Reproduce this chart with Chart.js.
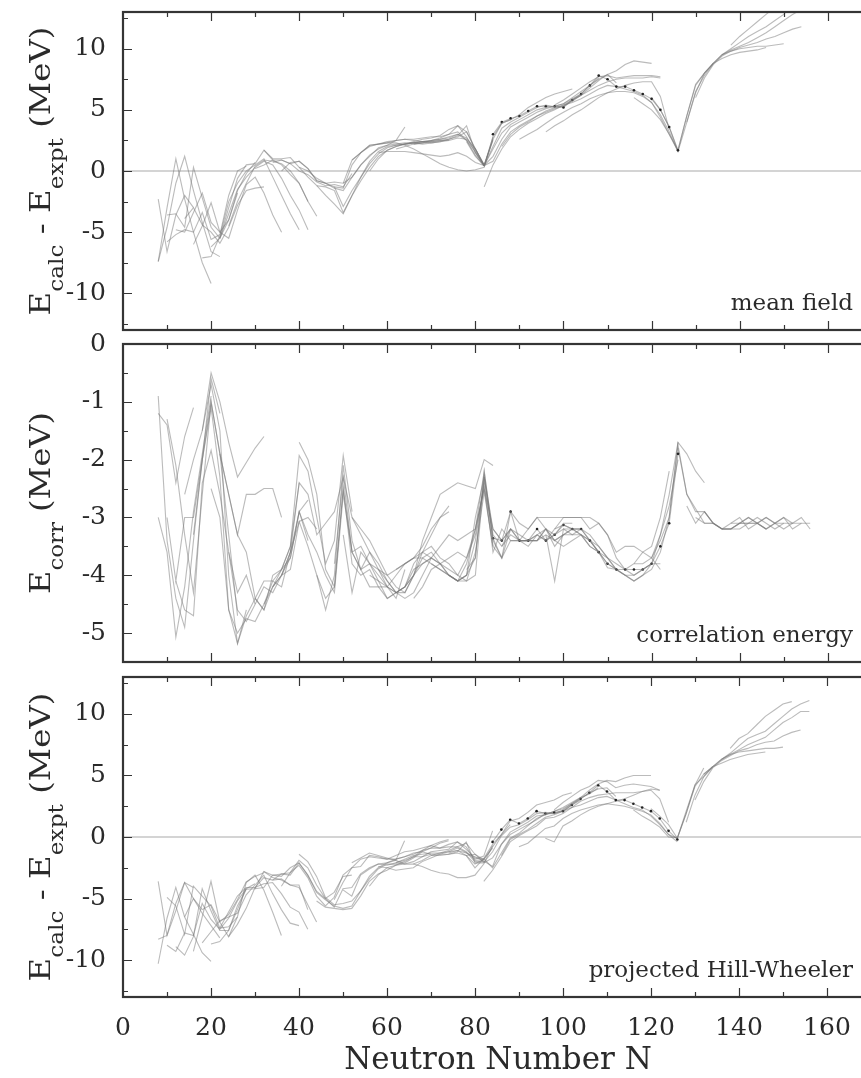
<!DOCTYPE html>
<html><head><meta charset="utf-8">
<script src="https://cdn.jsdelivr.net/npm/chart.js@4.4.1/dist/chart.umd.min.js"></script>
<style>
html,body{margin:0;padding:0;background:#fff;}
#wrap{position:relative;width:861px;height:1078px;overflow:hidden;background:#fff;}
canvas{position:absolute;left:0;}
</style></head><body>
<div id="wrap">
<canvas id="c1" width="867" height="382" style="top:-20px;width:867px;height:382px"></canvas>
<canvas id="c2" width="867" height="382" style="top:312px;width:867px;height:382px"></canvas>
<canvas id="c3" width="867" height="433" style="top:645px;width:867px;height:433px"></canvas>
</div>
<script>
// ---------- tick / axis labels ----------
const xTickValues = [0, 20, 40, 60, 80, 100, 120, 140, 160];
const panelTags = ['mean field', 'correlation energy', 'projected Hill-Wheeler'];
const xAxisTitle = 'Neutron Number N';

// ---------- chain starting neutron numbers (even-even isotopic chains, step 2) ----------
const chainStartN = [8,8,8,10,10,12,14,16,18,20,22,24, 30,32,34,36,40,44,48,50,52,56,58,60,
  62,66,70,74,78,82,84,86,90,96,98,116,120, 126,128,130,132,136,138];

// mf = mean field E_calc-E_expt, ec = correlation energy, hw = projected Hill-Wheeler E_calc-E_expt
const mfL1=[-2.3,-6.6,-3.6,-2.0,-3.0], ecL1=[-1.2,-1.4,-2.4,-1.6,-1.1], hwL1=[-3.6,-8.0,-6.0,-3.7,-4.1];
const mfL2=[-7.4,-3.0,1.0,-2.3,-5.0,-7.5,-9.2], ecL2=[-3.0,-3.6,-5.07,-4.2,-2.9,-1.9,-0.9], hwL2=[-10.3,-6.6,-4.1,-6.5,-7.9,-9.4,-10.1];
const mfL3=[-7.4,-4.6,-1.0,1.2,-1.6,-4.2,-6.6,-7.0], ecL3=[-0.9,-3.4,-4.4,-4.9,-3.4,-2.0,-0.6,-1.2], hwL3=[-8.3,-8.0,-5.4,-3.7,-5.0,-6.2,-7.2,-8.2];
const mfL4=[-3.6,-3.5,-4.6,0.3,-2.2,-4.6,-5.5,-4.0,-1.8], ecL4=[-1.3,-2.1,-3.3,-4.3,-2.6,-1.0,-1.9,-3.3,-4.7], hwL4=[-4.9,-5.6,-7.9,-4.0,-4.8,-5.6,-7.4,-7.3,-6.5];
const mfL5=[-5.8,-5.2,-4.8,-5.0,-3.4,-5.6,-5.2,-2.0,0.0,0.4], ecL5=[-3.0,-4.1,-3.0,-3.0,-2.0,-1.1,-2.3,-4.6,-5.18,-4.6], hwL5=[-8.8,-9.3,-7.8,-8.0,-5.4,-6.7,-7.5,-6.6,-5.2,-4.2];
const mfL6=[-4.8,-5.0,-3.4,-1.8,-4.2,-5.0,-4.0,-1.6,-0.2,0.7], ecL6=[-4.1,-4.6,-4.7,-2.4,-1.84,-2.6,-3.6,-4.3,-4.0,-4.5], hwL6=[-8.9,-9.6,-8.1,-4.2,-6.0,-7.6,-7.6,-5.9,-4.2,-3.8];
const mfL7=[-3.9,-3.0,-4.4,-5.0,-5.9,-4.6,-2.8,-1.6,-1.4,-1.3], ecL7=[-2.6,-2.0,-1.5,-0.5,-1.0,-1.7,-2.3,-2.05,-1.8,-1.6], hwL7=[-6.5,-5.0,-5.9,-5.5,-6.9,-6.3,-5.1,-3.65,-3.2,-2.9];
const mfL8=[-6.0,-4.5,-2.6,-5.0,-5.5,-3.2,-1.1,-0.5,-1.8,-3.6,-5.0], ecL8=[-3.3,-2.0,-1.0,-1.9,-2.6,-3.3,-2.6,-2.6,-2.5,-2.5,-3.0], hwL8=[-9.3,-6.5,-3.6,-6.9,-8.1,-6.5,-3.7,-3.1,-4.3,-6.1,-8.0];
const mfL9=[-7.1,-7.0,-5.3,-2.5,-1.0,0.0,0.5,1.0,-0.5,-2.0,-3.5,-4.8], ecL9=[-1.5,-0.7,-1.5,-4.0,-5.18,-4.7,-4.4,-4.1,-4.1,-3.9,-3.5,-2.4], hwL9=[-8.6,-7.7,-6.8,-6.5,-6.2,-4.7,-3.9,-3.1,-4.6,-5.9,-7.0,-7.2];
const mfL10=[-6.2,-5.5,-3.0,-0.6,0.5,0.6,1.7,0.9,0.5,-0.3,-1.0,-2.5], ecL10=[-2.5,-3.0,-4.6,-5.0,-4.75,-4.8,-4.5,-4.2,-4.0,-3.6,-2.9,-3.4], hwL10=[-8.7,-8.5,-7.6,-5.6,-4.25,-4.2,-2.8,-3.3,-3.5,-3.9,-3.9,-5.9];
const mfL11=[-5.5,-3.5,-1.5,-0.5,0.3,0.8,0.5,-0.6,-2.0,-3.2,-4.8], ecL11=[-1.9,-2.6,-3.3,-3.6,-4.4,-4.6,-4.2,-4.0,-3.7,-2.9,-2.7], hwL11=[-7.4,-6.1,-4.8,-4.1,-4.1,-3.8,-3.7,-4.6,-5.7,-6.1,-7.5];
const mfL12=[-4.5,-2.5,-1.0,0.4,0.9,0.8,0.6,0.0,-1.0,-2.5,-3.7], ecL12=[-3.6,-4.6,-4.8,-4.5,-4.2,-4.3,-4.0,-3.9,-3.07,-3.0,-3.2], hwL12=[-8.1,-7.1,-5.8,-4.1,-3.3,-3.5,-3.4,-3.9,-4.1,-5.5,-6.9];
const mfM1=[0.2,0.5,0.9,0.9,0.6,0.0,-0.3,-0.9,-1.2,-1.1,-1.3,-0.2], ecM1=[-4.4,-4.6,-4.0,-3.9,-3.5,-1.93,-2.2,-3.0,-3.8,-3.4,-1.93,-2.9], hwM1=[-4.2,-4.1,-3.1,-3.0,-2.9,-1.9,-2.5,-3.9,-5.0,-4.5,-3.2,-3.1];
const mfM2=[1.7,1.0,1.0,1.1,0.3,-0.5,-1.2,-2.0,-2.7,-3.5,-2.0,-0.5,0.8,1.6,2.0], ecM2=[-4.5,-4.1,-4.2,-3.6,-2.4,-2.6,-3.3,-3.1,-2.9,-2.3,-3.6,-3.9,-4.2,-4.2,-4.2], hwM2=[-2.8,-3.1,-3.2,-2.5,-2.1,-3.1,-4.5,-5.1,-5.6,-5.8,-5.6,-4.4,-3.4,-2.6,-2.2];
const mfM3=[0.7,0.9,0.6,0.8,0.2,-0.8,-1.0,-1.4,-1.6,-0.5,0.5,1.3,1.8,2.1,2.5,3.6], ecM3=[-4.2,-3.9,-3.7,-2.9,-3.3,-3.6,-4.0,-4.3,-2.6,-3.6,-3.5,-3.8,-4.0,-4.2,-4.4,-3.9], hwM3=[-3.5,-3.0,-3.1,-2.1,-3.1,-4.4,-5.0,-5.7,-4.2,-4.1,-3.0,-2.5,-2.2,-2.1,-1.9,-0.3];
const mfM4=[0.0,0.7,0.8,0.2,-0.8,-1.0,-0.9,-1.0,0.9,1.5,2.1,2.2,2.3,2.5,2.6,2.5,2.4,2.3], ecM4=[-4.0,-3.6,-3.07,-3.5,-4.0,-4.6,-4.0,-2.1,-3.4,-3.9,-3.6,-3.8,-4.1,-4.3,-4.2,-3.8,-3.6,-3.7], hwM4=[-4.0,-2.9,-2.3,-3.3,-4.8,-5.6,-4.9,-3.1,-2.5,-2.4,-1.5,-1.6,-1.8,-1.8,-1.6,-1.3,-1.2,-1.4];
const mfM5=[0.3,0.0,-0.6,-1.0,-1.3,-2.9,-1.6,-0.5,0.6,1.4,1.9,2.1,2.2,2.3,2.4,2.5,2.6,2.7], ecM5=[-1.7,-2.0,-2.6,-3.9,-4.2,-2.5,-3.6,-3.9,-3.8,-3.9,-4.0,-3.9,-3.8,-3.7,-3.5,-3.2,-3.0,-2.9], hwM5=[-1.4,-2.0,-3.2,-4.9,-5.5,-5.4,-5.2,-4.4,-3.2,-2.5,-2.1,-1.8,-1.6,-1.4,-1.1,-0.7,-0.4,-0.2];
const mfM6=[-1.2,-1.3,-1.6,-3.4,-2.0,-0.8,0.3,1.2,1.7,2.0,2.2,2.3,2.4,2.5,2.7,3.0,3.7,3.2,1.8,0.45], ecM6=[-4.0,-4.4,-4.2,-2.5,-3.8,-4.0,-3.9,-4.2,-4.4,-4.3,-4.4,-4.3,-4.0,-3.7,-3.8,-4.0,-4.1,-4.0,-3.7,-2.3], hwM6=[-5.2,-5.7,-5.8,-5.9,-5.8,-4.8,-3.6,-3.0,-2.7,-2.3,-2.2,-2.0,-1.6,-1.2,-1.1,-1.0,-0.4,-0.8,-1.9,-1.85];
const mfM7=[-1.3,-1.4,0.5,1.5,2.0,2.2,2.4,2.5,2.6,2.6,2.7,2.8,2.8,3.0,3.2,2.5,1.3,0.4], ecM7=[-3.8,-2.3,-3.0,-3.3,-3.6,-3.9,-4.2,-4.0,-3.8,-3.7,-3.6,-3.5,-3.7,-3.8,-4.0,-3.7,-3.3,-2.4], hwM7=[-5.1,-3.7,-2.5,-1.8,-1.6,-1.7,-1.8,-1.5,-1.2,-1.1,-0.9,-0.7,-0.9,-0.8,-0.8,-1.2,-2.0,-2.0];
const mfM8=[-1.0,-0.5,0.5,1.2,1.9,2.1,2.2,2.3,2.3,2.2,2.3,2.4,2.5,2.7,2.6,1.8,0.5,2.5], ecM8=[-3.3,-4.3,-3.6,-3.8,-4.1,-4.4,-4.3,-4.2,-3.9,-3.8,-3.7,-3.8,-3.9,-4.0,-4.1,-4.0,-2.3,-3.4], hwM8=[-4.3,-4.8,-3.1,-2.6,-2.2,-2.3,-2.1,-1.9,-1.6,-1.6,-1.4,-1.4,-1.4,-1.3,-1.5,-2.2,-1.8,-0.9];
const mfM9=[0.9,1.5,2.1,2.2,2.3,2.3,2.1,1.8,1.4,1.0,0.6,0.3,0.1,0.0,0.1,0.3,2.8], ecM9=[-3.0,-3.2,-3.4,-3.7,-4.0,-4.2,-4.3,-4.0,-3.8,-3.7,-3.5,-3.3,-3.4,-3.3,-3.2,-2.5,-3.5], hwM9=[-2.1,-1.7,-1.3,-1.5,-1.7,-1.9,-2.2,-2.2,-2.4,-2.7,-2.9,-3.0,-3.3,-3.3,-3.1,-2.2,-0.7];
const mfM10=[0.0,1.0,1.7,2.0,2.2,2.4,2.6,2.7,2.9,3.4,3.7,2.8,1.5,0.45,2.8,3.9,4.2], ecM10=[-4.0,-4.1,-4.2,-4.3,-4.2,-4.0,-3.7,-3.6,-3.8,-4.0,-4.1,-3.8,-3.2,-2.2,-3.4,-3.7,-3.2], hwM10=[-4.0,-3.1,-2.5,-2.3,-2.0,-1.6,-1.1,-0.9,-0.9,-0.6,-0.4,-1.0,-1.7,-1.75,-0.6,0.2,1.0];
const mfM11=[1.5,1.6,1.6,1.6,1.5,1.4,1.3,1.2,1.3,1.5,1.2,0.7,0.45,2.6], ecM11=[-3.9,-4.1,-4.3,-4.2,-4.0,-3.4,-3.0,-2.6,-2.5,-2.4,-2.45,-2.5,-2.0,-2.1], hwM11=[-2.4,-2.5,-2.7,-2.6,-2.5,-2.0,-1.7,-1.4,-1.2,-0.9,-1.25,-1.8,-1.55,0.5];
const mfM12=[2.0,2.1,2.2,2.3,2.4,2.4,2.5,2.5], ecM12=[-4.2,-4.3,-4.3,-4.0,-3.6,-3.3,-3.0,-2.8], hwM12=[-2.2,-2.2,-2.1,-1.7,-1.2,-0.9,-0.5,-0.3];
const mfH1=[1.8,2.0,2.2,2.3,2.5,2.6,2.8,3.0,2.5,1.6,0.45,2.6,3.9,4.2,4.6,5.2,5.6,6.0,6.3,6.5,6.7], ecH1=[-3.9,-3.8,-3.7,-3.7,-3.8,-3.9,-4.0,-4.1,-4.0,-3.0,-2.3,-3.36,-3.7,-2.9,-3.1,-3.2,-3.0,-3.2,-3.3,-3.1,-3.1], hwH1=[-2.1,-1.8,-1.5,-1.4,-1.3,-1.3,-1.2,-1.1,-1.5,-1.4,-1.85,-0.8,0.2,1.3,1.5,2.0,2.6,2.8,3.0,3.4,3.6];
const mfH2=[2.2,2.3,2.4,2.5,2.6,2.8,3.2,1.8,0.45,2.0,3.5,4.0,4.4,4.8,5.2,5.4,5.2,5.3,5.8,6.2], ecH2=[-4.4,-4.2,-3.9,-3.8,-3.7,-3.6,-3.7,-3.2,-2.5,-3.2,-3.4,-3.2,-3.4,-3.4,-3.3,-3.4,-3.3,-3.2,-3.2,-3.2], hwH2=[-2.2,-1.9,-1.5,-1.3,-1.1,-0.8,-0.5,-1.4,-2.05,-1.2,0.1,0.8,1.0,1.4,1.9,2.0,1.9,2.1,2.6,3.0];
const mfH3=[2.3,2.4,2.6,2.9,3.7,1.5,0.45,1.8,3.1,3.8,4.2,4.6,5.0,5.2,5.3,5.5,6.0,6.5,7.0,7.6], ecH3=[-3.8,-3.9,-4.0,-4.1,-4.1,-3.6,-2.56,-3.5,-3.7,-3.4,-3.4,-3.4,-3.3,-3.4,-3.2,-3.13,-3.2,-3.3,-3.5,-3.6], hwH3=[-1.5,-1.5,-1.4,-1.2,-0.4,-2.1,-2.1,-1.7,-0.6,0.4,0.8,1.2,1.7,1.8,2.1,2.4,2.8,3.2,3.5,4.0];
const mfH4=[2.7,3.0,2.7,1.8,0.45,1.2,2.6,3.6,4.0,4.4,4.8,5.1,5.3,5.5,5.9,6.3,7.0,7.5,7.9,7.2], ecH4=[-4.0,-4.1,-4.0,-3.4,-2.4,-3.6,-3.2,-3.4,-3.4,-3.4,-3.4,-3.2,-3.4,-3.3,-3.2,-3.2,-3.4,-3.6,-3.87,-3.9], hwH4=[-1.3,-1.1,-1.3,-1.6,-1.95,-2.4,-0.6,0.2,0.6,1.0,1.4,1.9,1.9,2.2,2.7,3.1,3.6,3.9,4.0,3.3];
const mfH5=[2.4,1.2,0.45,0.8,2.2,3.2,3.7,4.1,4.5,4.8,5.1,5.3,5.7,6.2,6.8,7.4,7.9,8.2,8.7,9.0,8.9,8.8], ecH5=[-3.9,-3.7,-2.2,-3.3,-3.5,-3.3,-3.4,-3.2,-3.0,-3.0,-3.0,-3.0,-3.0,-3.0,-3.0,-3.1,-3.3,-3.7,-3.9,-4.0,-3.9,-3.8], hwH5=[-1.5,-2.5,-1.75,-2.5,-1.3,-0.1,0.3,0.9,1.5,1.8,2.1,2.3,2.7,3.2,3.8,4.3,4.6,4.5,4.8,5.0,5.0,5.0];
const mfH6=[-1.3,0.5,1.8,2.8,3.4,3.9,4.3,4.7,5.0,5.4,5.8,6.2,6.6,7.0,7.3,7.5,7.6,7.6,7.6,7.7,7.6], ecH6=[-2.3,-3.2,-3.4,-3.2,-3.3,-3.4,-3.4,-3.2,-3.4,-3.5,-3.4,-3.3,-3.4,-3.6,-3.8,-3.9,-4.0,-4.0,-3.9,-3.8,-3.8], hwH6=[-3.6,-2.7,-1.6,-0.4,0.1,0.5,0.9,1.5,1.6,1.9,2.4,2.9,3.2,3.4,3.5,3.6,3.6,3.6,3.7,3.9,3.8];
const mfH7=[3.0,4.0,4.3,4.5,4.9,5.3,5.3,5.3,5.2,5.8,6.3,7.0,7.8,7.5,6.9,6.9,6.6,6.3,5.9,5.0,3.6,1.7], ecH7=[-3.36,-3.4,-2.9,-3.4,-3.4,-3.2,-3.4,-3.3,-3.13,-3.2,-3.2,-3.4,-3.6,-3.8,-3.9,-3.9,-3.9,-3.9,-3.8,-3.5,-3.1,-1.9], hwH7=[-0.4,0.6,1.4,1.1,1.5,2.1,1.9,2.0,2.1,2.6,3.1,3.6,4.2,3.7,3.0,3.0,2.7,2.4,2.1,1.5,0.5,-0.2];
const mfH8=[2.0,3.0,3.6,4.0,4.5,4.9,5.2,5.4,5.6,5.9,6.3,6.7,7.0,6.9,6.7,6.5,6.2,5.6,4.6,3.2,1.6], ecH8=[-3.5,-3.2,-3.4,-3.4,-3.4,-3.3,-3.4,-3.3,-3.2,-3.3,-3.4,-3.5,-3.7,-3.9,-4.0,-4.1,-4.0,-3.9,-3.6,-3.0,-1.7], hwH8=[-1.5,-0.2,0.2,0.6,1.1,1.6,1.8,2.1,2.4,2.6,2.9,3.2,3.3,3.0,2.7,2.4,2.2,1.7,1.0,0.2,-0.1];
const mfH9=[2.6,3.0,3.4,3.9,4.4,4.8,5.2,5.5,5.9,6.2,6.4,6.5,6.5,6.4,6.1,5.6,4.4,3.0,1.6], ecH9=[-3.4,-3.5,-3.3,-3.2,-3.5,-3.3,-3.3,-3.3,-3.5,-3.6,-3.7,-3.9,-4.0,-4.1,-4.0,-3.8,-3.3,-2.8,-2.0], hwH9=[-0.8,-0.5,0.1,0.7,0.9,1.5,1.9,2.2,2.4,2.6,2.7,2.6,2.5,2.3,2.1,1.8,1.1,0.2,-0.4];
const mfH10=[3.2,3.7,4.1,4.6,5.0,5.5,6.0,6.4,6.7,7.0,7.2,7.3,7.3,6.1,3.4], ecH10=[-3.3,-4.1,-3.2,-3.3,-3.2,-3.3,-3.5,-3.7,-3.8,-3.9,-3.8,-3.6,-3.5,-3.0,-2.2], hwH10=[-0.1,-0.4,0.9,1.3,1.8,2.2,2.5,2.7,2.9,3.1,3.4,3.7,3.8,3.1,1.2];
const mfH11=[5.4,5.8,6.3,6.8,7.3,7.7,7.8,7.6,7.7,7.8,7.8,7.8,7.7], ecH11=[-3.2,-3.0,-3.0,-3.0,-3.2,-3.1,-3.3,-3.6,-3.5,-3.5,-3.6,-3.7,-3.9], hwH11=[2.2,2.8,3.3,3.8,4.1,4.6,4.5,4.0,4.2,4.3,4.2,4.1,3.8];
const mfH12=[6.0,5.5,5.0,4.2,3.0,1.7,4.5,7.1,8.0,8.8], ecH12=[-3.8,-3.8,-3.7,-3.4,-3.0,-1.75,-2.6,-2.85,-3.1,-3.1], hwH12=[2.2,1.7,1.3,0.8,0.0,-0.05,1.9,4.25,4.9,5.7];
const mfH13=[6.0,5.0,3.6,1.6,4.0,6.4,8.0], ecH13=[-3.7,-3.3,-2.6,-1.7,-1.9,-2.2,-2.4], hwH13=[2.3,1.7,1.0,-0.1,2.1,4.2,5.6];
const mfP1=[1.7,4.5,7.0,8.0,8.8,9.2,9.5,9.7,9.8,9.9,10.1], ecP1=[-1.8,-2.6,-2.9,-2.9,-3.1,-3.2,-3.2,-3.2,-3.1,-3.1,-3.2], hwP1=[-0.1,1.9,4.1,5.1,5.7,6.0,6.3,6.5,6.7,6.8,6.9];
const mfP2=[4.0,6.5,7.8,8.8,9.5,9.8,10.0,10.1,10.2,10.2,10.3,10.4], ecP2=[-2.8,-3.1,-2.9,-3.1,-3.2,-3.1,-3.1,-3.1,-3.1,-3.0,-3.1,-3.1], hwP2=[1.2,3.4,4.9,5.7,6.3,6.7,6.9,7.0,7.1,7.2,7.2,7.3];
const mfP3=[6.0,7.6,8.7,9.4,9.8,10.1,10.3,10.5,10.8,11.0,11.3,11.6,11.8], ecP3=[-3.0,-3.1,-3.1,-3.2,-3.2,-3.1,-3.1,-3.0,-3.1,-3.2,-3.1,-3.1,-3.1], hwP3=[3.0,4.5,5.6,6.2,6.6,7.0,7.2,7.5,7.7,7.8,8.2,8.5,8.7];
const mfP4=[8.0,8.8,9.5,9.9,10.2,10.5,10.9,11.3,11.8,12.3,12.8,13.2,13.4], ecP4=[-2.9,-3.1,-3.2,-3.2,-3.1,-3.0,-3.1,-3.2,-3.1,-3.0,-3.1,-3.0,-3.2], hwP4=[5.1,5.7,6.3,6.7,7.1,7.5,7.8,8.1,8.7,9.3,9.7,10.2,10.2];
const mfP5=[9.5,10.0,10.5,11.0,11.4,11.8,12.3,12.8,13.6,13.9,14.2], ecP5=[-3.2,-3.2,-3.1,-3.0,-3.1,-3.2,-3.1,-3.0,-3.2,-3.1,-3.1], hwP5=[6.3,6.8,7.4,8.0,8.3,8.6,9.2,9.8,10.4,10.8,11.1];
const mfP6=[10.3,11.0,11.6,12.2,12.8,13.4,14.0,14.1], ecP6=[-3.1,-3.0,-3.2,-3.1,-3.0,-3.1,-3.2,-3.1], hwP6=[7.2,8.0,8.4,9.1,9.8,10.3,10.8,11.0];

const meanFieldChains = [mfL1,mfL2,mfL3,mfL4,mfL5,mfL6,mfL7,mfL8,mfL9,mfL10,mfL11,mfL12,mfM1,mfM2,mfM3,mfM4,mfM5,mfM6,mfM7,mfM8,mfM9,mfM10,mfM11,mfM12,mfH1,mfH2,mfH3,mfH4,mfH5,mfH6,mfH7,mfH8,mfH9,mfH10,mfH11,mfH12,mfH13,mfP1,mfP2,mfP3,mfP4,mfP5,mfP6];
const corrChains = [ecL1,ecL2,ecL3,ecL4,ecL5,ecL6,ecL7,ecL8,ecL9,ecL10,ecL11,ecL12,ecM1,ecM2,ecM3,ecM4,ecM5,ecM6,ecM7,ecM8,ecM9,ecM10,ecM11,ecM12,ecH1,ecH2,ecH3,ecH4,ecH5,ecH6,ecH7,ecH8,ecH9,ecH10,ecH11,ecH12,ecH13,ecP1,ecP2,ecP3,ecP4,ecP5,ecP6];
const hillWheelerChains = [hwL1,hwL2,hwL3,hwL4,hwL5,hwL6,hwL7,hwL8,hwL9,hwL10,hwL11,hwL12,hwM1,hwM2,hwM3,hwM4,hwM5,hwM6,hwM7,hwM8,hwM9,hwM10,hwM11,hwM12,hwH1,hwH2,hwH3,hwH4,hwH5,hwH6,hwH7,hwH8,hwH9,hwH10,hwH11,hwH12,hwH13,hwP1,hwP2,hwP3,hwP4,hwP5,hwP6];
const markedChain = 30; // chain drawn with dark point markers

// ---------- drawing ----------
const FONT = '"DejaVu Serif", "Liberation Serif", serif';
const TXT = '#2a2a2a';

function datasetsFrom(chains) {
  return chains.map((vals, c) => ({
    data: vals.map((v, i) => ({x: chainStartN[c] + 2 * i, y: v})),
    borderColor: 'rgba(120,120,120,0.5)',
    borderWidth: 1.1,
    pointRadius: c === markedChain ? 1.3 : 0,
    pointBackgroundColor: '#222',
    pointBorderWidth: 0,
    tension: 0,
    fill: false
  }));
}

// rotated title with subscripts, stretched along the text to the target length
function drawRotTitle(ctx, parts, cx, cy, size, targetLen) {
  const sub = Math.round(size * 0.7);
  ctx.save();
  ctx.translate(cx, cy);
  ctx.rotate(-Math.PI / 2);
  ctx.fillStyle = TXT;
  ctx.textBaseline = 'alphabetic';
  ctx.textAlign = 'left';
  let total = 0;
  const w = parts.map(p => { ctx.font = (p[1] ? sub : size) + 'px ' + FONT; const m = ctx.measureText(p[0]).width; total += m; return m; });
  ctx.scale(targetLen / total, 1);
  let x = -total / 2;
  parts.forEach((p, i) => {
    ctx.font = (p[1] ? sub : size) + 'px ' + FONT;
    ctx.fillText(p[0], x, p[1] ? size * 0.45 : 0);
    x += w[i];
  });
  ctx.restore();
}

const decor = {
  id: 'decor',
  beforeDatasetsDraw(chart, args, o) {
    const {ctx, chartArea: a, scales: {y}} = chart;
    if (o.zero) {
      const py = y.getPixelForValue(0);
      ctx.save(); ctx.strokeStyle = '#c6c6c6'; ctx.lineWidth = 1.6;
      ctx.beginPath(); ctx.moveTo(a.left, py); ctx.lineTo(a.right, py); ctx.stroke(); ctx.restore();
    }
  },
  afterDraw(chart, args, o) {
    const {ctx, chartArea: a, scales: {x, y}} = chart;
    ctx.save();
    ctx.strokeStyle = '#353535'; ctx.lineWidth = 1.2;
    ctx.beginPath();
    for (let k = 1; k * 10 < x.max; k++) {
      const px = Math.round(x.getPixelForValue(k * 10)) + 0.5;
      const L = k % 2 === 0 ? 9 : 5;
      ctx.moveTo(px, a.top); ctx.lineTo(px, a.top + L);
      ctx.moveTo(px, a.bottom); ctx.lineTo(px, a.bottom - L);
    }
    const nMin = Math.ceil(y.min / o.minor + 1e-6), nMax = Math.floor(y.max / o.minor - 1e-6);
    for (let k = nMin; k <= nMax; k++) {
      const v = k * o.minor;
      const py = Math.round(y.getPixelForValue(v)) + 0.5;
      const major = Math.abs(v / o.major - Math.round(v / o.major)) < 1e-6;
      const L = major ? 9 : 5;
      ctx.moveTo(a.left, py); ctx.lineTo(a.left + L, py);
    }
    ctx.stroke();
    ctx.lineWidth = 2.2;
    ctx.strokeRect(a.left, a.top, a.right - a.left, a.bottom - a.top);
    // panel tag
    ctx.fillStyle = TXT;
    ctx.font = '23px ' + FONT;
    ctx.textAlign = 'right'; ctx.textBaseline = 'alphabetic';
    ctx.fillText(o.tag, 853, a.bottom - 20);
    drawRotTitle(ctx, o.title, 50, (a.top + a.bottom) / 2, 28, o.titleLen);
    if (o.xTitle) {
      ctx.font = '31px ' + FONT; ctx.textAlign = 'center';
      ctx.fillText(o.xTitle, 498, a.bottom + 72);
    }
    ctx.restore();
  }
};

function makePanel(id, chains, yMin, yMax, major, opts, showX) {
  const xScale = {
    type: 'linear', min: 0, max: 168, display: showX,
    grid: {display: false, drawTicks: false}, border: {display: false},
    ticks: {stepSize: 20, includeBounds: false, color: TXT, font: {family: FONT, size: 25}, padding: 16, maxRotation: 0,
            callback: v => xTickValues.includes(v) ? String(v) : ''}
  };
  if (showX) xScale.afterFit = s => { s.height = 81; };
  return new Chart(document.getElementById(id), {
    type: 'line',
    data: {datasets: datasetsFrom(chains)},
    plugins: [decor],
    options: {
      responsive: false, animation: false, devicePixelRatio: 1,
      layout: {padding: {top: 30, bottom: showX ? 0 : 30, left: 0, right: 0}},
      plugins: {legend: {display: false}, tooltip: {enabled: false}, decor: opts},
      scales: {
        x: xScale,
        y: {
          min: yMin, max: yMax,
          grid: {display: false, drawTicks: false}, border: {display: false},
          ticks: {stepSize: major, includeBounds: false, color: TXT, font: {family: FONT, size: 25}, padding: 17},
          afterFit: s => { s.width = 123; }
        }
      }
    }
  });
}

const calcTitle = [['E', 0], ['calc', 1], [' - ', 0], ['E', 0], ['expt', 1], [' (MeV)', 0]];
makePanel('c1', meanFieldChains, -13, 13, 5, {zero: true, major: 5, minor: 2.5, tag: panelTags[0], title: calcTitle, titleLen: 289}, false);
makePanel('c2', corrChains, -5.5, 0, 1, {zero: false, major: 1, minor: 0.5, tag: panelTags[1], title: [['E', 0], ['corr', 1], [' (MeV)', 0]], titleLen: 182}, false);
makePanel('c3', hillWheelerChains, -13, 13, 5, {zero: true, major: 5, minor: 2.5, tag: panelTags[2], title: calcTitle, titleLen: 289, xTitle: xAxisTitle}, true);
</script>
</body></html>
